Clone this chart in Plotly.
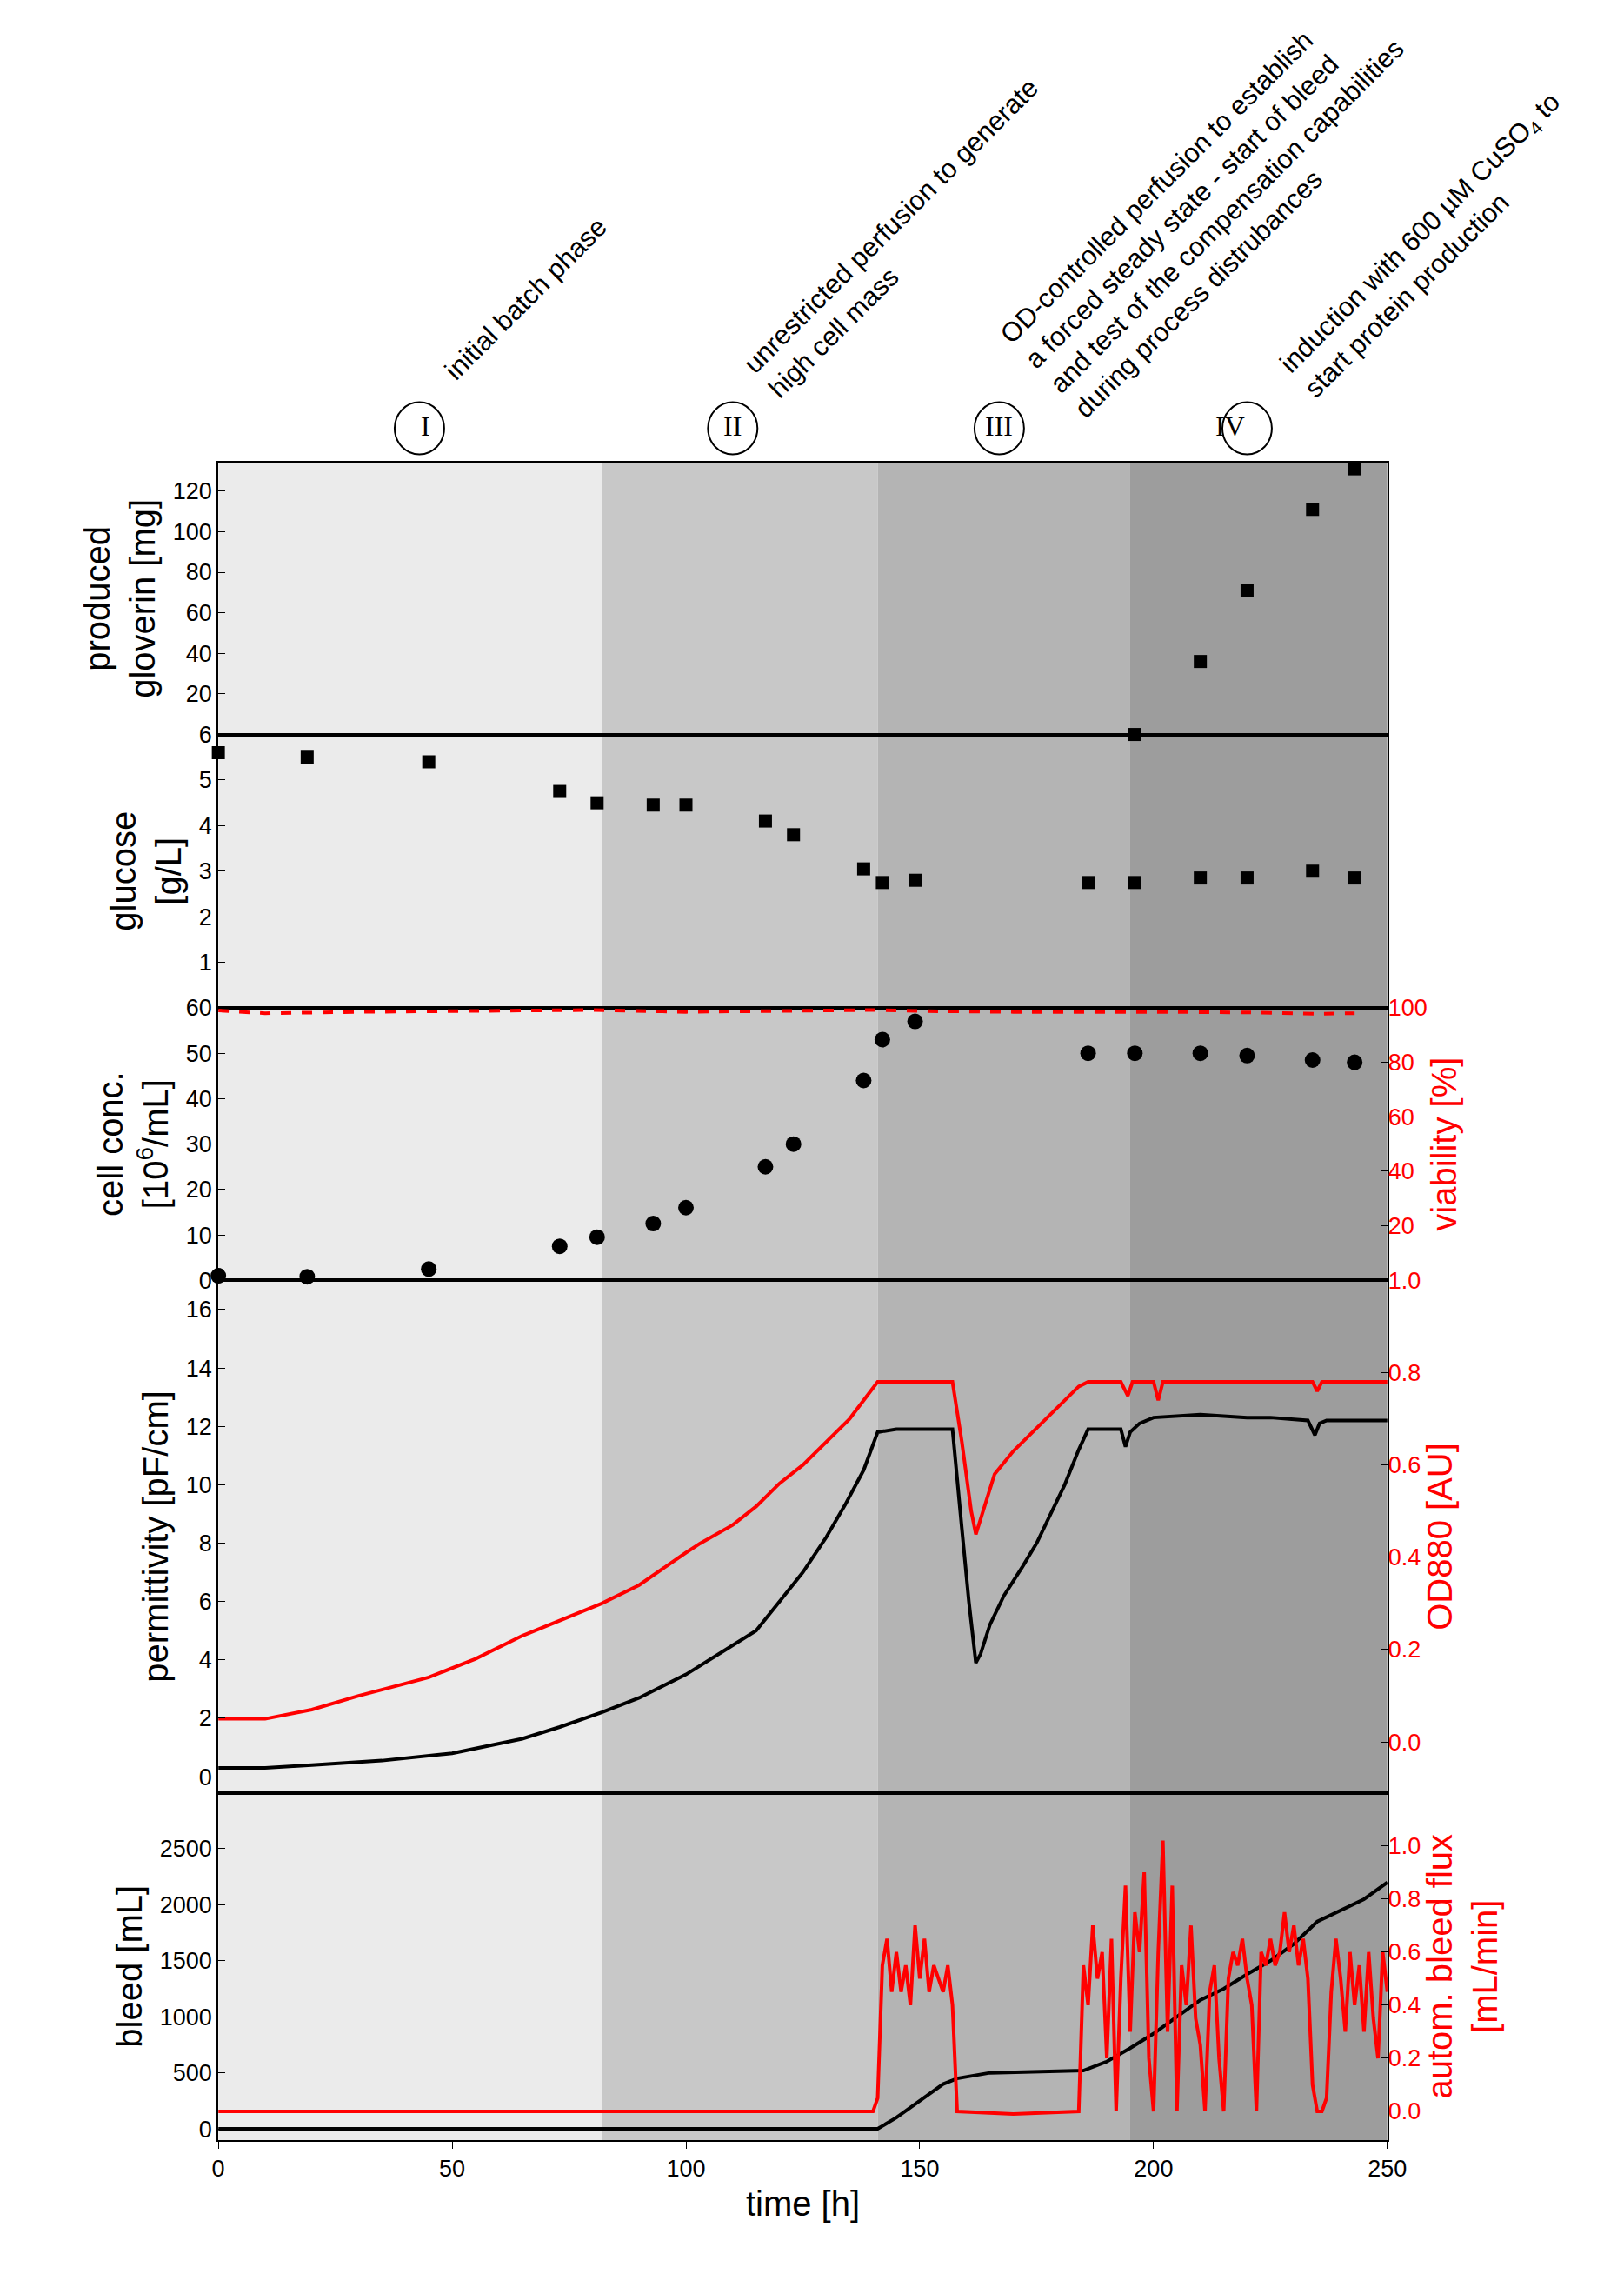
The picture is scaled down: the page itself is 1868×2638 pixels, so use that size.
import plotly.graph_objects as go

# ---------------- data ----------------
glov_t = [196, 210, 220, 234, 243]
glov_v = [0, 36, 71, 111, 131]

gluc_t = [0, 19, 45, 73, 81, 93, 100, 117, 123, 138, 142, 149, 186, 196, 210, 220, 234, 243]
gluc_v = [5.6, 5.5, 5.4, 4.75, 4.5, 4.45, 4.45, 4.1, 3.8, 3.05, 2.75, 2.8, 2.75, 2.75, 2.85, 2.85, 3.0, 2.85]

cell_t = [0, 19, 45, 73, 81, 93, 100, 117, 123, 138, 142, 149, 186, 196, 210, 220, 234, 243]
cell_v = [1, 0.8, 2.5, 7.5, 9.5, 12.5, 16, 25, 30, 44, 53, 57, 50, 50, 50, 49.5, 48.5, 48]

via_t = [0, 10, 30, 60, 80, 100, 120, 140, 150, 170, 200, 220, 235, 243]
via_v = [99, 98, 98.5, 98.8, 99.2, 98.5, 98.8, 99.2, 98.8, 98.5, 98.5, 98.3, 97.8, 98]

perm_t = [0, 10, 20, 35, 50, 65, 73, 82, 90, 100, 108, 115, 120, 125, 130, 134, 138, 141, 145, 150, 157,
          159, 160.5, 162, 163, 165, 168, 172, 175, 178, 181, 184, 186, 190, 193, 194, 195, 197, 200,
          210, 220, 225, 233, 234.5, 235.5, 237, 245, 250]
perm_v = [0.3, 0.3, 0.4, 0.55, 0.8, 1.3, 1.7, 2.2, 2.7, 3.5, 4.3, 5.0, 6.0, 7.0, 8.2, 9.3, 10.5, 11.8, 11.9, 11.9, 11.9,
          8.5, 6.0, 3.9, 4.2, 5.2, 6.2, 7.2, 8.0, 9.0, 10.0, 11.2, 11.9, 11.9, 11.9, 11.3, 11.8, 12.1, 12.3,
          12.4, 12.3, 12.3, 12.2, 11.7, 12.1, 12.2, 12.2, 12.2]

od_t = [0, 10, 20, 30, 45, 55, 65, 75, 82, 90, 97, 100, 103, 110, 115, 120, 125, 130, 135, 141, 145, 157,
        159, 161, 162, 163.5, 166, 170, 175, 180, 184, 186, 193, 194.5, 195.5, 200, 201, 202, 210, 234, 235, 236, 250]
od_v = [0.05, 0.05, 0.07, 0.1, 0.14, 0.18, 0.23, 0.27, 0.3, 0.34, 0.39, 0.41, 0.43, 0.47, 0.51, 0.56, 0.6, 0.65, 0.7, 0.78, 0.78, 0.78,
        0.65, 0.5, 0.45, 0.5, 0.58, 0.63, 0.68, 0.73, 0.77, 0.78, 0.78, 0.75, 0.78, 0.78, 0.74, 0.78, 0.78, 0.78, 0.76, 0.78, 0.78]

bleed_t = [0, 141, 145, 150, 155, 158, 165, 185, 190, 195, 200, 205, 210, 215, 220, 225, 230, 235, 240, 245, 250]
bleed_v = [0, 0, 100, 250, 400, 450, 500, 520, 600, 720, 850, 1000, 1150, 1250, 1380, 1500, 1650, 1850, 1950, 2050, 2200]

flux_t = [0, 140, 141, 142, 143, 144, 145, 146, 147, 148, 149, 150, 151, 152, 153, 154, 155, 156, 157, 158, 170, 184,
          185, 186, 187, 188, 189, 190, 191, 192, 193, 194, 195, 196, 197, 198, 199, 200, 201, 202, 203, 204, 205,
          206, 207, 208, 209, 210, 211, 212, 213, 214, 215, 216, 217, 218, 219, 220, 221, 222, 223, 224, 225, 226,
          227, 228, 229, 230, 231, 232, 233, 234, 235, 236, 237, 238, 239, 240, 241, 242, 243, 244, 245, 246, 247,
          248, 249, 250]
flux_v = [0, 0, 0.05, 0.55, 0.65, 0.45, 0.6, 0.45, 0.55, 0.4, 0.7, 0.5, 0.65, 0.45, 0.55, 0.5, 0.45, 0.55, 0.4, 0.0, -0.01, 0.0,
          0.55, 0.4, 0.7, 0.5, 0.6, 0.2, 0.65, 0.0, 0.5, 0.85, 0.3, 0.75, 0.6, 0.9, 0.2, 0.0, 0.6, 1.02, 0.3, 0.85, 0.0,
          0.55, 0.4, 0.7, 0.35, 0.25, 0.0, 0.45, 0.55, 0.2, 0.0, 0.5, 0.6, 0.55, 0.65, 0.5, 0.4, 0.0, 0.6, 0.55, 0.65, 0.55,
          0.6, 0.75, 0.6, 0.7, 0.55, 0.65, 0.5, 0.1, 0.0, 0.0, 0.05, 0.45, 0.65, 0.5, 0.3, 0.6, 0.4, 0.55, 0.3, 0.6, 0.35,
          0.2, 0.6, 0.45]

phase_edges = [0, 82, 141, 195, 250]
phase_colors = ["#ebebeb", "#c8c8c8", "#b4b4b4", "#9d9d9d"]
phase_labels = ["I", "II", "III", "IV"]
phase_label_x = [43, 110, 167, 220]
phase_texts = [
    "initial batch phase",
    "unrestricted perfusion to generate<br>high cell mass",
    "OD-controlled perfusion to establish<br>a forced steady state - start of bleed<br>and test of the compensation capabilities<br>during process distrubances",
    "induction with 600 µM CuSO<sub>4</sub> to<br>start protein production",
]
phase_text_pos = [(0.3206, 0.877), (0.557, 0.904), (0.752, 0.919), (0.888, 0.901)]

# ---------------- layout ----------------
RED = "#ff0000"
FONT = "Liberation Sans"
XD = [0.128, 0.860]
top_px = [515, 831, 1149, 1466, 2062, 2466]
H = 2638
dd = [[1 - top_px[i + 1] / H, 1 - top_px[i] / H] for i in range(5)]

fig = go.Figure()
tickfont = dict(family=FONT, size=27, color="black")
titlefont = dict(family=FONT, size=40, color="black")

def yax(dom, rng, title, tickvals, anchor):
    return dict(domain=dom, range=rng, showline=True, linecolor="black", linewidth=2, mirror=True,
                ticks="inside", ticklen=8, tickcolor="black", tickfont=tickfont, showgrid=False,
                zeroline=False, title=dict(text=title, font=titlefont, standoff=8), anchor=anchor,
                tickvals=tickvals)

lay = {}
lay["yaxis"] = yax(dd[0], [0, 134], "produced<br>gloverin [mg]", [20, 40, 60, 80, 100, 120], "x")
lay["yaxis2"] = yax(dd[1], [0, 6], "glucose<br>[g/L]", [1, 2, 3, 4, 5, 6], "x2")
lay["yaxis3"] = yax(dd[2], [0, 60], "cell conc.<br>[10<sup>6</sup>/mL]", [0, 10, 20, 30, 40, 50, 60], "x3")
lay["yaxis5"] = yax(dd[3], [-0.55, 17], "permittivity [pF/cm]", [0, 2, 4, 6, 8, 10, 12, 14, 16], "x4")
lay["yaxis7"] = yax(dd[4], [-100, 3000], "bleed [mL]", [0, 500, 1000, 1500, 2000, 2500], "x5")

redtick = dict(family=FONT, size=27, color=RED)
redtitle = dict(family=FONT, size=40, color=RED)
def ryax(over, rng, tickvals, ticktext, title, anchor):
    d = dict(overlaying=over, side="right", range=rng, tickvals=tickvals,
             ticks="inside", ticklen=8, tickcolor="black", tickfont=redtick, showgrid=False,
             zeroline=False, showline=False, anchor=anchor,
             title=dict(text=title, font=redtitle, standoff=6))
    if ticktext:
        d["ticktext"] = ticktext
    return d
od_ticks = [0.0, 0.2, 0.4, 0.6, 0.8, 1.0]
od_text = ["0.0", "0.2", "0.4", "0.6", "0.8", "1.0"]
lay["yaxis4"] = ryax("y3", [0, 100], [20, 40, 60, 80, 100], None, "viability [%]", "x3")
lay["yaxis6"] = ryax("y5", [-0.11, 1.0], od_ticks, od_text, "OD880 [AU]", "x4")
lay["yaxis8"] = ryax("y7", [-0.108, 1.2], od_ticks, od_text, "autom. bleed flux<br>[mL/min]", "x5")

yas = ["y", "y2", "y3", "y5", "y7"]
for i, n in enumerate(["xaxis", "xaxis2", "xaxis3", "xaxis4", "xaxis5"]):
    ax = dict(domain=XD, range=[0, 250], anchor=yas[i], showgrid=False, zeroline=False,
              showline=True, linecolor="black", linewidth=2, mirror=True,
              ticks="", showticklabels=False, tickvals=[0, 50, 100, 150, 200, 250])
    if i > 0:
        ax["matches"] = "x"
    if i == 4:
        ax.update(showticklabels=True, ticks="outside", ticklen=8, tickcolor="black", tickfont=tickfont,
                  title=dict(text="time [h]", font=titlefont, standoff=12))
    lay[n] = ax

# traces
fig.add_trace(go.Scatter(x=glov_t, y=glov_v, mode="markers", xaxis="x", yaxis="y",
                         marker=dict(symbol="square", size=15, color="black"), cliponaxis=False))
fig.add_trace(go.Scatter(x=gluc_t, y=gluc_v, mode="markers", xaxis="x2", yaxis="y2",
                         marker=dict(symbol="square", size=15, color="black"), cliponaxis=False))
fig.add_trace(go.Scatter(x=cell_t, y=cell_v, mode="markers", xaxis="x3", yaxis="y3",
                         marker=dict(symbol="circle", size=18, color="black"), cliponaxis=False))
fig.add_trace(go.Scatter(x=via_t, y=via_v, mode="lines", xaxis="x3", yaxis="y4",
                         line=dict(color=RED, width=4, dash="dash")))
fig.add_trace(go.Scatter(x=perm_t, y=perm_v, mode="lines", xaxis="x4", yaxis="y5",
                         line=dict(color="black", width=4)))
fig.add_trace(go.Scatter(x=od_t, y=od_v, mode="lines", xaxis="x4", yaxis="y6",
                         line=dict(color=RED, width=4)))
fig.add_trace(go.Scatter(x=bleed_t, y=bleed_v, mode="lines", xaxis="x5", yaxis="y7",
                         line=dict(color="black", width=4)))
fig.add_trace(go.Scatter(x=flux_t, y=flux_v, mode="lines", xaxis="x5", yaxis="y8",
                         line=dict(color=RED, width=4)))

shapes = []
for i in range(4):
    shapes.append(dict(type="rect", xref="x", yref="paper", x0=phase_edges[i], x1=phase_edges[i + 1],
                       y0=dd[4][0], y1=dd[0][1], fillcolor=phase_colors[i], line=dict(width=0), layer="below"))
annotations = []
cy = 1 - 475 / H
for i in range(4):
    xp = XD[0] + (XD[1] - XD[0]) * phase_label_x[i] / 250
    shapes.append(dict(type="circle", xref="paper", yref="paper", x0=xp - 0.0155, x1=xp + 0.0155,
                       y0=cy - 0.0115, y1=cy + 0.0115, line=dict(color="black", width=2)))
    annotations.append(dict(x=xp, y=cy + 0.001, xref="paper", yref="paper", text=phase_labels[i], showarrow=False,
                            yanchor="middle", font=dict(family="Liberation Serif", size=32, color="black")))
    annotations.append(dict(x=phase_text_pos[i][0], y=phase_text_pos[i][1], xref="paper", yref="paper",
                            text=phase_texts[i], showarrow=False, textangle=-45, align="left",
                            xanchor="center", yanchor="middle",
                            font=dict(family=FONT, size=31, color="black")))

fig.update_layout(width=1868, height=2638, plot_bgcolor="white", paper_bgcolor="white",
                  showlegend=False, margin=dict(l=0, r=0, t=0, b=0),
                  shapes=shapes, annotations=annotations, **lay)
fig.write_html("out.html")
